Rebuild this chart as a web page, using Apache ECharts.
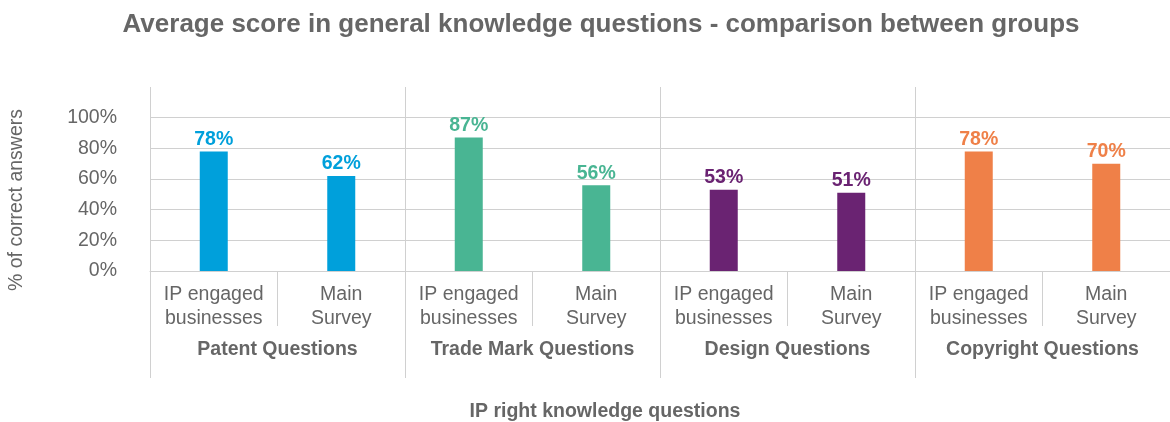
<!DOCTYPE html>
<html>
<head>
<meta charset="utf-8">
<script src="https://cdn.jsdelivr.net/npm/echarts@6/dist/echarts.min.js"></script>
<style>
  html, body { margin: 0; padding: 0; background: #fff; }
  #chart { width: 1170px; height: 422px; }
</style>
</head>
<body>
<div id="chart"></div>
<script>
// Respondent groups within each question type
const subCategories = [
  'IP engaged\nbusinesses', 'Main\nSurvey',
  'IP engaged\nbusinesses', 'Main\nSurvey',
  'IP engaged\nbusinesses', 'Main\nSurvey',
  'IP engaged\nbusinesses', 'Main\nSurvey'
];
// Question types (each spans two sub-categories)
const groups = ['Patent Questions', 'Trade Mark Questions', 'Design Questions', 'Copyright Questions'];
// Average % of correct answers
const scores = [78, 62, 87, 56, 53, 51, 78, 70];
// One colour per question type
const groupColors = ['#00A0DB', '#49B593', '#6A2372', '#EF8048'];
// Y-axis ticks (0–100 labelled, 120 leaves headroom)
const yTicks = [0, 20, 40, 60, 80, 100, 120];

const FONT = '"Liberation Sans", Arial, Helvetica, sans-serif';
const GREY = '#666666';
const LINE = '#d0d0d0';
const FS = 19.5;

const barData = scores.map((v, i) => {
  const c = groupColors[Math.floor(i / 2)];
  return { value: v, itemStyle: { color: c }, label: { color: c } };
});

const chart = echarts.init(document.getElementById('chart'), null, { renderer: 'canvas' });
chart.setOption({
  animation: false,
  backgroundColor: '#ffffff',
  textStyle: { fontFamily: FONT },
  title: [
    {
      text: 'Average score in general knowledge questions - comparison between groups',
      left: 596, textAlign: 'center', top: 7,
      textStyle: { fontFamily: FONT, fontSize: 26, fontWeight: 'bold', color: GREY }
    },
    {
      text: 'IP right knowledge questions',
      left: 600, textAlign: 'center', top: 397,
      textStyle: { fontFamily: FONT, fontSize: FS, fontWeight: 'bold', color: GREY }
    }
  ],
  graphic: [
    {
      type: 'text',
      x: 17, y: 200,
      rotation: Math.PI / 2,
      style: {
        text: '% of correct answers',
        fontFamily: FONT, fontSize: FS, fill: GREY,
        align: 'center', verticalAlign: 'middle'
      }
    }
  ],
  grid: { left: 150, right: 0, top: 87, bottom: 151, containLabel: false },
  xAxis: [
    {
      type: 'category',
      data: subCategories,
      position: 'bottom',
      axisLine: { show: true, lineStyle: { color: LINE, width: 1 } },
      axisTick: { show: true, length: 55, lineStyle: { color: LINE } },
      axisLabel: {
        margin: 12, fontSize: FS, lineHeight: 24, color: GREY, fontFamily: FONT,
        interval: 0, align: 'center'
      },
      splitLine: { show: false }
    },
    {
      type: 'category',
      data: groups,
      position: 'bottom',
      gridIndex: 0,
      axisLine: { show: false },
      axisTick: { show: true, length: 107, lineStyle: { color: LINE } },
      axisLabel: {
        margin: 69, fontSize: FS, fontWeight: 'bold', color: GREY, fontFamily: FONT,
        interval: 0
      },
      splitLine: { show: true, lineStyle: { color: LINE, width: 1 } }
    }
  ],
  yAxis: {
    type: 'value',
    min: yTicks[0],
    max: yTicks[yTicks.length - 1],
    interval: yTicks[1] - yTicks[0],
    axisLine: { show: false },
    axisTick: { show: false },
    axisLabel: {
      margin: 33, fontSize: FS, color: GREY, fontFamily: FONT,
      formatter: v => (v >= 120 ? '' : v + '%')
    },
    splitLine: {
      show: true,
      lineStyle: {
        width: 1,
        color: [LINE, LINE, LINE, LINE, LINE, LINE, 'rgba(0,0,0,0)']
      }
    }
  },
  series: [
    {
      type: 'bar',
      xAxisIndex: 0,
      data: barData,
      barWidth: 28,
      label: {
        show: true, position: 'top', distance: 2,
        formatter: p => p.value + '%',
        fontSize: FS, fontWeight: 'bold', fontFamily: FONT
      }
    }
  ]
});
</script>
</body>
</html>
